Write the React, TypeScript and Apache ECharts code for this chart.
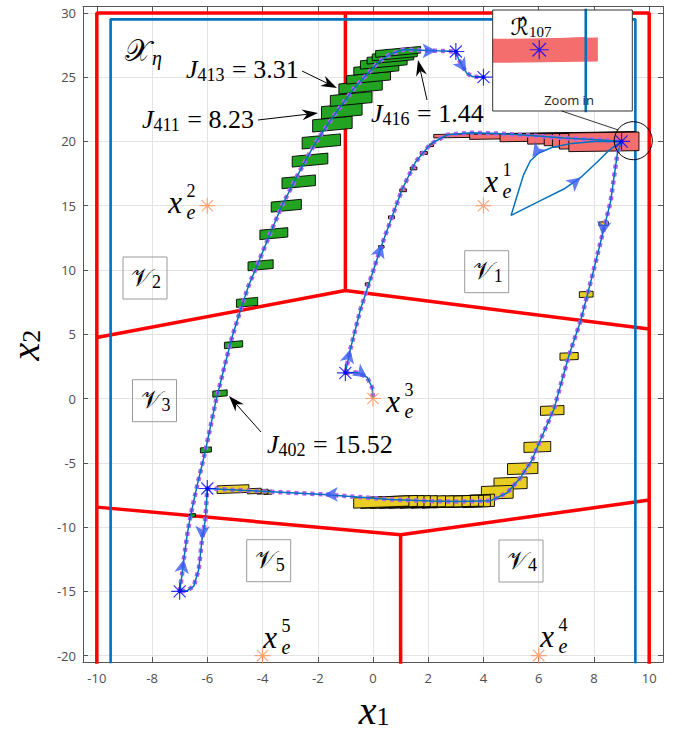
import React, { useEffect, useRef } from 'react';
import * as echarts from 'echarts';

const xTicks = [-10, -8, -6, -4, -2, 0, 2, 4, 6, 8, 10];
const yTicks = [-20, -15, -10, -5, 0, 5, 10, 15, 20, 25, 30];

// partition boundaries (red) and safe set (blue)
const redSegments: number[][][] = [
  [[-10, -21], [-10, 30], [10, 30], [10, -21]],
  [[-1, 30], [-1, 8.4]],
  [[-10, 4.75], [-1, 8.4], [10, 5.4]],
  [[-10, -8.45], [1, -10.6], [10, -7.9]],
  [[1, -10.6], [1, -21]],
];
const blueBoundary = [[-9.5, -21], [-9.5, 29.5], [9.5, 29.5], [9.5, -21]];

// trajectories
const pathA = [
  [-7, -15], [-6.92, -13.8], [-6.85, -12.5], [-6.72, -10.5], [-6.61, -9.15], [-6.37, -6.8],
  [-6.07, -4.08], [-5.7, -0.3], [-5.4, 2.3], [-5.1, 4.8], [-4.75, 7.2], [-4.5, 8.8],
  [-4.2, 10.33], [-3.71, 12.9], [-3.3, 15.0], [-2.7, 17.5], [-2.14, 19.7], [-1.42, 22.0],
  [-0.7, 24.1], [0.21, 26.2], [0.63, 26.8], [1.12, 27.15], [1.72, 27.1], [2.33, 27.05], [3, 27],
  [3.1, 26.4], [3.25, 25.8], [3.4, 25.3], [3.6, 25.05], [4, 25],
];
const pathB = [
  [9, 20], [8.85, 19.1], [8.6, 15.3], [8.3, 12.7], [7.94, 9.56], [7.52, 6.05], [7.09, 3.32],
  [6.55, -0.83], [6.07, -3.17], [5.77, -4.73], [5.34, -6.16], [4.86, -7.33], [4.26, -7.95],
  [3.05, -8.02], [2.08, -7.98], [0.63, -7.85], [-1.78, -7.46], [-4.2, -7.2], [-6, -7],
  [-6.07, -9.4], [-6.19, -10.97], [-6.31, -13.3], [-6.49, -14.6], [-6.73, -14.95], [-7, -15],
];
const pathC = [
  [-1, 2], [-0.82, 3.84], [-0.45, 6.96], [-0.09, 9.3], [0.33, 12.03], [0.7, 14.2], [1.06, 16.3],
  [1.54, 18.4], [2.08, 19.8], [2.69, 20.52], [3.53, 20.68], [4.5, 20.62], [5.71, 20.47],
  [6.91, 20.26], [8.12, 20.13], [9, 20],
];
const pathD = [[-1, 2], [-0.57, 2.03], [-0.21, 1.64], [-0.03, 0.86], [0, 0]];
const pathE = [
  [9, 20], [8, 20.0], [7.2, 19.85], [6.5, 19.55], [6.0, 19.1], [5.7, 18.5], [5.45, 17.4],
  [5.22, 15.8], [5.0, 14.25], [6.19, 15.53], [6.91, 16.3], [7.52, 17.2], [8.12, 18.4],
  [8.54, 19.3], [8.85, 19.8], [9, 20],
];

// reachable-set boxes: [cx, cy, width, height]
const greenBoxes = [
  [-6.54, -9.1, 0.22, 0.26], [-6.05, -4.0, 0.4, 0.39], [-5.54, 0.39, 0.52, 0.47],
  [-5.05, 4.19, 0.66, 0.49], [-4.56, 7.48, 0.77, 0.62], [-4.07, 10.37, 0.91, 0.68],
  [-3.59, 12.83, 1.01, 0.73], [-3.14, 15.0, 1.09, 0.78], [-2.69, 16.86, 1.21, 0.83],
  [-2.28, 18.55, 1.29, 0.83], [-1.87, 20.0, 1.39, 0.9], [-1.47, 21.35, 1.43, 0.95],
  [-1.13, 22.38, 1.47, 0.95], [-0.79, 23.3, 1.51, 0.85], [-0.45, 24.24, 1.57, 0.78],
  [-0.16, 24.95, 1.59, 0.65], [0.12, 25.63, 1.63, 0.6], [0.39, 26.12, 1.69, 0.65],
  [0.63, 26.45, 1.69, 0.52], [0.79, 26.7, 1.63, 0.52], [0.91, 26.97, 1.63, 0.52],
];
const yellowBoxes = [
  [8.35, 13.6, 0.34, 0.3], [7.72, 8.1, 0.5, 0.45], [7.1, 3.28, 0.66, 0.55],
  [6.49, -0.93, 0.85, 0.7], [5.95, -3.77, 0.97, 0.78], [5.42, -5.45, 1.1, 0.85],
  [4.98, -6.6, 1.2, 0.9], [4.5, -7.3, 1.15, 1.0], [3.95, -7.95, 0.9, 0.95],
  [3.75, -8.0, 1.0, 0.9], [3.45, -8.0, 1.1, 0.85], [3.2, -8.0, 1.25, 0.85],
  [2.85, -8.02, 1.35, 0.85], [2.5, -8.05, 1.45, 0.85], [2.15, -8.05, 1.55, 0.85],
  [1.8, -8.05, 1.65, 0.85], [1.45, -8.05, 1.75, 0.85], [1.15, -8.05, 1.85, 0.85],
  [0.87, -8.05, 1.95, 0.85], [0.58, -8.05, 2.05, 0.85], [0.3, -8.05, 2.0, 0.8],
  [-3.8, -7.3, 0.3, 0.3], [-4.0, -7.25, 0.4, 0.35], [-4.3, -7.2, 0.5, 0.4],
  [-5.07, -7.05, 1.15, 0.6],
];
const salmonBoxes = [
  [-0.2, 8.9, 0.16, 0.2], [0.3, 11.8, 0.2, 0.2], [0.67, 14.1, 0.22, 0.22],
  [1.09, 16.2, 0.24, 0.22], [1.47, 17.9, 0.24, 0.22], [1.84, 19.1, 0.26, 0.22],
  [2.12, 19.7, 0.14, 0.2],
  [5.85, 20.52, 7.3, 0.27], [6.5, 20.45, 6.0, 0.4], [7.05, 20.35, 4.9, 0.6],
  [7.55, 20.25, 3.9, 0.8], [7.85, 20.18, 3.3, 0.93], [8.0, 20.13, 3.0, 1.05],
  [8.15, 20.05, 2.8, 1.2], [8.36, 19.97, 2.54, 1.45],
];

// direction markers: [x, y, rotation (deg)]
const arrowHeads = [
  [-6.85, -12.5, -9], [2.3, 27.05, -90], [3.38, 25.4, -147], [8.3, 12.7, 172],
  [-1.78, -7.46, 90], [-6.19, -11.0, 178], [-0.82, 3.84, -14], [0.33, 12.03, -19],
  [-0.21, 1.64, -125], [5.77, 18.8, 143], [7.52, 17.2, -51],
];
const blueStars = [[3, 27], [4, 25], [9, 20], [-1, 2], [-6, -7], [-7, -15]];
const equilibria = [[4, 15], [-6, 15], [0, 0], [6, -20], [-4, -20]];
const equilibriumNames = ['1', '2', '3', '4', '5'];
const costLabels = [['413', '3.31'], ['411', '8.23'], ['416', '1.44'], ['402', '15.52']];
const regionNames = ['1', '2', '3', '4', '5'];

const SERIF = "'Liberation Serif', 'DejaVu Serif', serif";
const MATHF = "'DejaVu Serif', 'DejaVu Sans', 'Liberation Serif', serif";
const STAR = 'path://M10 0L10 20M0 10L20 10M2.93 2.93L17.07 17.07M2.93 17.07L17.07 2.93';

function boxRender(fill: string, stroke: string | null, shear: number, clip: boolean) {
  return (params: any, api: any) => {
    const cx = api.value(0), cy = api.value(1), w = api.value(2), h = api.value(3);
    const corners = [
      [cx - w / 2, cy - h / 2 - (shear * w) / 2],
      [cx + w / 2, cy - h / 2 + (shear * w) / 2],
      [cx + w / 2, cy + h / 2 + (shear * w) / 2],
      [cx - w / 2, cy + h / 2 - (shear * w) / 2],
    ];
    let points = corners.map((p) => api.coord(p));
    if (clip) {
      const cs = params.coordSys;
      points = echarts.graphic.clipPointsByRect(points, { x: cs.x, y: cs.y, width: cs.width, height: cs.height } as any);
    }
    return {
      type: 'polygon',
      shape: { points },
      style: { fill, stroke: stroke || 'none', lineWidth: stroke ? 0.9 : 0 },
    };
  };
}

function lineSeries(data: number[][], color: string, width: number, z: number, type: any = 'solid', xi = 0) {
  return {
    type: 'line', data, xAxisIndex: xi, yAxisIndex: xi, symbol: 'none', silent: true, z,
    lineStyle: { color, width, type }, clip: true,
  };
}

function arrowGraphic(x1: number, y1: number, x2: number, y2: number) {
  const dx = x2 - x1, dy = y2 - y1, L = Math.hypot(dx, dy);
  const ux = dx / L, uy = dy / L, px = -uy, py = ux;
  const hl = 16, hw = 5.5, notch = 11;
  const bx = x2 - ux * hl, by = y2 - uy * hl;
  const nx = x2 - ux * notch, ny = y2 - uy * notch;
  return [
    { type: 'line', z: 8, shape: { x1, y1, x2: nx, y2: ny }, style: { stroke: '#000', lineWidth: 1 } },
    {
      type: 'polygon', z: 8,
      shape: { points: [[x2, y2], [bx + px * hw, by + py * hw], [nx, ny], [bx - px * hw, by - py * hw]] },
      style: { fill: '#000' },
    },
  ];
}

function costText(x: number, y: number, sub: string, val: string) {
  return {
    type: 'text', x, y, z: 8,
    style: {
      text: `{j|J}{s|${sub}}{e| = ${val}}`,
      verticalAlign: 'middle',
      rich: {
        j: { fontFamily: SERIF, fontStyle: 'italic', fontSize: 26, fill: '#000' },
        s: { fontFamily: SERIF, fontSize: 18, fill: '#000', padding: [12, 1, 0, 0] },
        e: { fontFamily: SERIF, fontSize: 26, fill: '#000' },
      },
    },
  };
}

function eqText(x: number, y: number, k: string) {
  return [
    { type: 'text', x, y, z: 8, style: { text: 'x', fontFamily: SERIF, fontStyle: 'italic', fontSize: 31, fill: '#000', align: 'center', verticalAlign: 'middle' } },
    { type: 'text', x: x + 10, y: y - 1, z: 8, style: {
      text: `{a|${k}}\n{b|e}`, align: 'left', verticalAlign: 'middle',
      rich: {
        a: { fontFamily: SERIF, fontSize: 18, fill: '#000', lineHeight: 21, align: 'center', width: 12 },
        b: { fontFamily: SERIF, fontStyle: 'italic', fontSize: 20, fill: '#000', lineHeight: 21, align: 'center', width: 12 },
      } } },
  ];
}

function regionText(cx: number, cy: number, k: string) {
  return [
    { type: 'rect', z: 8, shape: { x: cx - 22, y: cy - 21, width: 44, height: 42 }, style: { fill: 'none', stroke: '#9a9a9a', lineWidth: 1 } },
    { type: 'text', x: cx + 1, y: cy - 1, z: 8, style: {
      text: `{v|\u{1D4B1}}{s|${k}}`, align: 'center', verticalAlign: 'middle',
      rich: {
        v: { fontFamily: MATHF, fontSize: 25, fill: '#000' },
        s: { fontFamily: SERIF, fontSize: 18, fill: '#000', padding: [10, 0, 0, 0] },
      } } },
  ];
}

function buildOption() {
  const series: any[] = [];
  redSegments.forEach((seg) => series.push(lineSeries(seg, '#ff0000', 3.5, 2)));
  series.push(lineSeries(blueBoundary, '#0072bd', 2.6, 2));
  series.push({ type: 'custom', xAxisIndex: 0, yAxisIndex: 0, data: greenBoxes, encode: { x: 0, y: 1 }, z: 3, silent: true, renderItem: boxRender('#22a322', '#000', 0.2, false) });
  series.push({ type: 'custom', xAxisIndex: 0, yAxisIndex: 0, data: yellowBoxes, encode: { x: 0, y: 1 }, z: 3, silent: true, renderItem: boxRender('#e8cd22', '#000', 0.08, false) });
  series.push({ type: 'custom', xAxisIndex: 0, yAxisIndex: 0, data: salmonBoxes, encode: { x: 0, y: 1 }, z: 3, silent: true, renderItem: boxRender('#f56e6e', '#000', 0.03, false) });
  [pathA, pathB, pathC, pathD].forEach((p) => series.push(lineSeries(p, '#b65ff2', 4.5, 4, [4, 4])));
  [pathA, pathB, pathC, pathD, pathE].forEach((p) => series.push(lineSeries(p, '#0072bd', 1.5, 5)));
  series.push({
    type: 'scatter', xAxisIndex: 0, yAxisIndex: 0, silent: true, z: 6, symbol: 'arrow', symbolSize: [11, 14],
    itemStyle: { color: '#3a5cf2' },
    data: arrowHeads.map(([x, y, a]) => ({ value: [x, y], symbolRotate: a })),
  });
  series.push({
    type: 'scatter', xAxisIndex: 0, yAxisIndex: 0, silent: true, z: 7, symbol: STAR, symbolSize: 17,
    itemStyle: { color: 'none', borderColor: '#0000ff', borderWidth: 1.2 }, data: blueStars,
  });
  series.push({
    type: 'scatter', xAxisIndex: 0, yAxisIndex: 0, silent: true, z: 7, symbol: 'circle', symbolSize: 4,
    itemStyle: { color: '#0000ff' }, data: blueStars,
  });
  series.push({
    type: 'scatter', xAxisIndex: 0, yAxisIndex: 0, silent: true, z: 7, symbol: STAR, symbolSize: 16,
    itemStyle: { color: 'none', borderColor: '#ff9157', borderWidth: 1.2 }, data: equilibria,
  });
  // inset ("Zoom in")
  series.push({ type: 'custom', xAxisIndex: 2, yAxisIndex: 2, data: salmonBoxes, encode: { x: 0, y: 1 }, z: 12, silent: true, renderItem: boxRender('#f56e6e', null, 0.03, true) });
  series.push(lineSeries(blueBoundary, '#0072bd', 2.6, 12, 'solid', 2));
  series.push({
    type: 'scatter', xAxisIndex: 2, yAxisIndex: 2, silent: true, z: 13, symbol: STAR, symbolSize: 19,
    itemStyle: { color: 'none', borderColor: '#0000ff', borderWidth: 1.2 }, data: blueStars, clip: true,
  });

  const tickLabel = { color: '#4d4d4d', fontSize: 13, fontFamily: "'Open Sans', 'Noto Sans', sans-serif" };
  const axisLine = { show: true, onZero: false, lineStyle: { color: '#555', width: 1 } };
  const split = { show: true, lineStyle: { color: '#e3e3e3', width: 1 } };

  const xAxis: any[] = [
    { type: 'value', gridIndex: 0, min: -10.5, max: 10.5, position: 'bottom', axisLine,
      axisTick: { show: true, inside: true, length: 5, customValues: xTicks, lineStyle: { color: '#555' } },
      axisLabel: { ...tickLabel, customValues: xTicks, margin: 9 }, splitLine: split },
    { type: 'value', gridIndex: 0, min: -10.5, max: 10.5, position: 'top', axisLine,
      axisTick: { show: true, inside: true, length: 5, customValues: xTicks, lineStyle: { color: '#555' } },
      axisLabel: { show: false }, splitLine: { show: false } },
    { type: 'value', gridIndex: 1, min: 8.5, max: 10, show: false },
  ];
  const yAxis: any[] = [
    { type: 'value', gridIndex: 0, min: -20.5, max: 30.5, position: 'left', axisLine,
      axisTick: { show: true, inside: true, length: 5, customValues: yTicks, lineStyle: { color: '#555' } },
      axisLabel: { ...tickLabel, customValues: yTicks, margin: 7 }, splitLine: split },
    { type: 'value', gridIndex: 0, min: -20.5, max: 30.5, position: 'right', axisLine,
      axisTick: { show: true, inside: true, length: 5, customValues: yTicks, lineStyle: { color: '#555' } },
      axisLabel: { show: false }, splitLine: { show: false } },
    { type: 'value', gridIndex: 1, min: 16.3, max: 22.4, show: false },
  ];

  const graphic: any[] = [];
  // cost annotations
  const costPos = [[186, 69], [142, 119], [371, 113], [267, 444]];
  costLabels.forEach(([s, v], i) => graphic.push(costText(costPos[i][0], costPos[i][1], s, v)));
  graphic.push(...arrowGraphic(302, 71, 337, 88));
  graphic.push(...arrowGraphic(258, 120, 318, 113));
  graphic.push(...arrowGraphic(427, 100, 418, 60));
  graphic.push(...arrowGraphic(261, 432, 229, 396));
  // equilibrium labels
  const eqPos = [[491, 181], [175, 202], [393, 401], [547, 636], [270, 637]];
  equilibriumNames.forEach((k, i) => graphic.push(...eqText(eqPos[i][0], eqPos[i][1], k)));
  // region labels
  const regPos = [[486.7, 271.7], [145, 278], [154.5, 400.7], [521, 561], [268.7, 560.7]];
  regionNames.forEach((k, i) => graphic.push(...regionText(regPos[i][0], regPos[i][1], k)));
  // X_eta
  graphic.push({ type: 'text', x: 125, y: 50, z: 8, style: { text: '{c|\u{1D4B3}}{s|η}', verticalAlign: 'middle',
    rich: { c: { fontFamily: MATHF, fontSize: 30, fill: '#000' }, s: { fontFamily: SERIF, fontStyle: 'italic', fontSize: 20, fill: '#000', padding: [16, 0, 0, 1] } } } });
  // axis titles
  const titleRich = { i: { fontFamily: SERIF, fontStyle: 'italic', fontSize: 40, fill: '#000' }, s: { fontFamily: SERIF, fontSize: 26, fill: '#000', padding: [13, 0, 0, 0] } };
  graphic.push({ type: 'text', x: 374, y: 710, z: 8, style: { text: '{i|x}{s|1}', align: 'center', verticalAlign: 'middle', rich: titleRich } });
  graphic.push({ type: 'text', x: 25, y: 345, z: 8, rotation: Math.PI / 2, style: { text: '{i|x}{s|2}', align: 'center', verticalAlign: 'middle', rich: titleRich } });
  // inset frame
  graphic.push({ type: 'rect', z: 10, shape: { x: 492.7, y: 10, width: 139.6, height: 101 }, style: { fill: '#fff', stroke: 'none' } });
  graphic.push({ type: 'rect', z: 20, shape: { x: 492.7, y: 10, width: 139.6, height: 101 }, style: { fill: 'none', stroke: '#333', lineWidth: 1 } });
  graphic.push({ type: 'text', x: 531, y: 27, z: 20, style: { text: '{r|ℛ\u0302}{s|107}', align: 'center', verticalAlign: 'middle',
    rich: { r: { fontFamily: MATHF, fontSize: 23, fill: '#000' }, s: { fontFamily: SERIF, fontSize: 15, fill: '#000', padding: [10, 0, 0, 0] } } } });
  graphic.push({ type: 'text', x: 569, y: 100, z: 20, style: { text: 'Zoom in', fontFamily: "'Open Sans', sans-serif", fontSize: 13, fill: '#222', align: 'center', verticalAlign: 'middle' } });
  graphic.push({ type: 'line', z: 20, shape: { x1: 561.7, y1: 111, x2: 618.3, y2: 130 }, style: { stroke: '#000', lineWidth: 0.8 } });
  graphic.push({ type: 'circle', z: 20, shape: { cx: 633.3, cy: 140.7, r: 19 }, style: { fill: 'none', stroke: '#000', lineWidth: 1 } });

  return {
    animation: false,
    backgroundColor: '#fff',
    grid: [
      { left: 83, top: 6.5, width: 580, height: 655.5, outerBoundsMode: 'none' },
      { left: 492.7, top: 10, width: 139.6, height: 101, outerBoundsMode: 'none' },
    ],
    xAxis, yAxis, series, graphic,
  };
}

export default function App() {
  const ref = useRef<HTMLDivElement>(null);
  useEffect(() => {
    const chart = echarts.init(ref.current!, null, { renderer: 'svg' });
    chart.setOption(buildOption() as any);
    return () => chart.dispose();
  }, []);
  return <div ref={ref} style={{ position: 'fixed', left: 0, top: 0, width: 681, height: 732 }} />;
}
